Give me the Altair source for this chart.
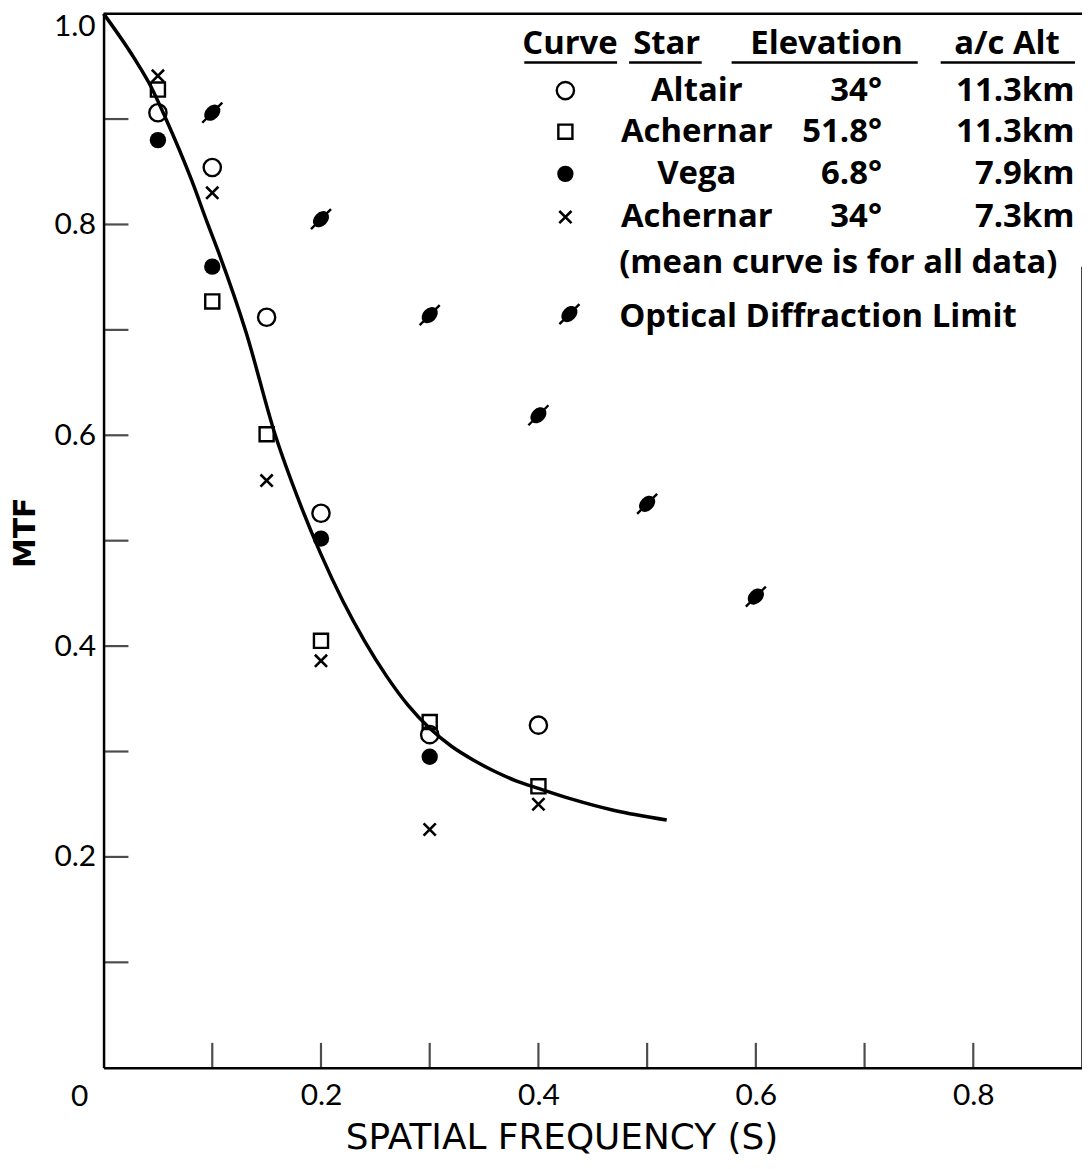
import altair as alt
import pandas as pd

W, H = 983, 1059
BLACK = "#000000"
FONT = "Lato"
LFONT = "Open Sans"

# ---------------- data ----------------
freq = [0.05, 0.10, 0.15, 0.20, 0.30, 0.40]
altair_mtf = [0.906, 0.854, 0.712, 0.526, 0.316, 0.325]
achernar52_mtf = [0.928, 0.727, 0.601, 0.405, 0.328, 0.267]
achernar34_mtf = [0.941, 0.830, 0.557, 0.386, 0.226, 0.250]
vega_freq = [0.05, 0.10, 0.20, 0.30]
vega_mtf = [0.880, 0.760, 0.502, 0.295]
diff_freq = [0.1, 0.2, 0.3, 0.4, 0.5, 0.6]
diff_mtf = [0.906, 0.805, 0.714, 0.619, 0.535, 0.447]

curve_x = [0.0, 0.028, 0.044, 0.057, 0.081, 0.096, 0.106, 0.131, 0.158, 0.18,
           0.20, 0.22, 0.24, 0.26, 0.28, 0.30, 0.32, 0.34, 0.36, 0.38, 0.40,
           0.43, 0.47, 0.518]
curve_y = [1.0, 0.958, 0.930, 0.901, 0.842, 0.800, 0.773, 0.698, 0.600, 0.537,
           0.487, 0.443, 0.405, 0.372, 0.344, 0.322, 0.305, 0.292, 0.281, 0.272,
           0.265, 0.255, 0.244, 0.235]

x_ticks = [0.1, 0.2, 0.3, 0.4, 0.5, 0.6, 0.7, 0.8]
y_ticks = [0.1, 0.2, 0.3, 0.4, 0.5, 0.6, 0.7, 0.8, 0.9]
x_labels = [0.2, 0.4, 0.6, 0.8]
y_labels = [0.2, 0.4, 0.6, 0.8]
top_label = "1.0"
origin_label = "0"

# legend content
hdr_text = ["Curve", "Star", "Elevation", "a/c Alt"]
hdr_x = [0.429, 0.518, 0.665, 0.831]
hdr_y = 0.971
ul_x1 = [0.387, 0.4834, 0.5777, 0.770]
ul_x2 = [0.4724, 0.5502, 0.7489, 0.8936]
ul_y = 0.9537
row_y = [0.927, 0.888, 0.848, 0.807]
star_names = ["Altair", "Achernar", "Vega", "Achernar"]
elevations = ["34°", "51.8°", "6.8°", "34°"]
altitudes = ["11.3km", "11.3km", "7.9km", "7.3km"]
sym_x = 0.4248
name_x = 0.5457
elev_x = 0.716
alt_x = 0.893
note_text = "(mean curve is for all data)"
note_y = 0.763
optical_text = "Optical Diffraction Limit"
optical_y = 0.712
optical_sym_y = 0.715
text_left_x = 0.4743

# ---------------- scales ----------------
xs = alt.Scale(domain=[0, 0.9], nice=False, zero=True)
ys = alt.Scale(domain=[0, 1.0], nice=False, zero=True)

X_PATH = "M-1,-1L1,1M-1,1L1,-1"
DIFF_PATH = ("M-0.9,0.9L0.9,-0.9M0.51,-0.51A0.72,0.5 -45 1,1 -0.51,0.51"
             "A0.72,0.5 -45 1,1 0.51,-0.51Z")


def pts(xv, yv):
    return pd.DataFrame({"x": xv, "y": yv})


def X():
    return alt.X("x:Q", scale=xs)


def Y():
    return alt.Y("y:Q", scale=ys)


base_axes = alt.Chart(pts([0], [0])).mark_point(opacity=0).encode(
    x=alt.X("x:Q", scale=xs, title="SPATIAL FREQUENCY (S)",
            axis=alt.Axis(values=x_labels, format=".1f", ticks=False, grid=False,
                          domainColor=BLACK, domainWidth=2.5,
                          labelFont=FONT, labelFontSize=30, labelColor=BLACK,
                          labelPadding=13, titleFont="DejaVu Sans",
                          titleFontSize=36, titleFontWeight="normal",
                          titleColor=BLACK, titlePadding=10, titleX=460)),
    y=alt.Y("y:Q", scale=ys, title="MTF",
            axis=alt.Axis(values=y_labels, format=".1f", ticks=False, grid=False,
                          domainColor=BLACK, domainWidth=2.5,
                          labelFont=FONT, labelFontSize=30, labelColor=BLACK,
                          labelPadding=8, titleFont="DejaVu Sans",
                          titleFontSize=30, titleFontWeight="bold",
                          titleColor=BLACK, titlePadding=13, titleY=521)),
)

zero_label = alt.Chart(pts([0], [0])).mark_text(
    text=origin_label, font=FONT, fontSize=30, color=BLACK, dx=-24, dy=29
).encode(x=X(), y=Y())

one_label = alt.Chart(pts([0], [1.0])).mark_text(
    text=top_label, font=FONT, fontSize=30, color=BLACK, align="right",
    baseline="middle", dx=-8, dy=13
).encode(x=X(), y=Y())

xtick_marks = alt.Chart(pd.DataFrame({"x": x_ticks})).mark_tick(
    orient="vertical", color=BLACK, size=25, thickness=2.2
).encode(x=X(), y=alt.value(H - 12.5))

ytick_marks = alt.Chart(pd.DataFrame({"y": y_ticks})).mark_tick(
    orient="horizontal", color=BLACK, size=25, thickness=2.2
).encode(y=Y(), x=alt.value(12.5))

top_line = alt.Chart(pd.DataFrame({"y": [1.0]})).mark_rule(
    color=BLACK, strokeWidth=2.5).encode(y=Y())
right_line = alt.Chart(pd.DataFrame({"x": [0.9], "y": [0.0], "y2": [0.76]})).mark_rule(
    color=BLACK, strokeWidth=1.5).encode(x=X(), y=Y(), y2="y2:Q")

curve = alt.Chart(pts(curve_x, curve_y)).mark_line(
    color=BLACK, strokeWidth=3.5, interpolate="monotone"
).encode(x=X(), y=Y())

open_circ = alt.Chart(pts(freq + [sym_x], altair_mtf + [row_y[0]])).mark_point(
    shape="circle", filled=False, color=BLACK, strokeWidth=2.4, size=300, opacity=1
).encode(x=X(), y=Y())

squares = alt.Chart(pts(freq + [sym_x], achernar52_mtf + [row_y[1]])).mark_point(
    shape="square", filled=False, color=BLACK, strokeWidth=2.4, size=200, opacity=1
).encode(x=X(), y=Y())

filled_circ = alt.Chart(pts(vega_freq + [sym_x], vega_mtf + [row_y[2]])).mark_point(
    shape="circle", filled=True, color=BLACK, size=270, opacity=1
).encode(x=X(), y=Y())

crosses = alt.Chart(pts(freq + [sym_x], achernar34_mtf + [row_y[3]])).mark_point(
    shape=X_PATH, filled=False, color=BLACK, strokeWidth=2.6, size=150, opacity=1
).encode(x=X(), y=Y())

diffr = alt.Chart(pts(diff_freq + [0.4285], diff_mtf + [optical_sym_y])).mark_point(
    shape=DIFF_PATH, filled=True, fill=BLACK, stroke=BLACK, strokeWidth=2.4,
    size=500, opacity=1
).encode(x=X(), y=Y())

# legend texts
TXT = dict(font=LFONT, fontSize=33, fontWeight="bold", color=BLACK, baseline="middle")

hdr = alt.Chart(pd.DataFrame({"x": hdr_x, "y": [hdr_y] * 4, "t": hdr_text})).mark_text(
    align="center", **TXT
).encode(x=X(), y=Y(), text="t:N")

underl = alt.Chart(pd.DataFrame({"x": ul_x1, "x2": ul_x2, "y": [ul_y] * 4})).mark_rule(
    color=BLACK, strokeWidth=2.5).encode(x=X(), x2="x2:Q", y=Y())

names = alt.Chart(pd.DataFrame({"x": [name_x] * 4, "y": row_y, "t": star_names})).mark_text(
    align="center", **TXT
).encode(x=X(), y=Y(), text="t:N")

elev = alt.Chart(pd.DataFrame({"x": [elev_x] * 4, "y": row_y, "t": elevations})).mark_text(
    align="right", **TXT
).encode(x=X(), y=Y(), text="t:N")

alts = alt.Chart(pd.DataFrame({"x": [alt_x] * 4, "y": row_y, "t": altitudes})).mark_text(
    align="right", **TXT
).encode(x=X(), y=Y(), text="t:N")

notes = alt.Chart(pd.DataFrame({"x": [text_left_x] * 2, "y": [note_y, optical_y],
                                "t": [note_text, optical_text]})).mark_text(
    align="left", **TXT
).encode(x=X(), y=Y(), text="t:N")

chart = alt.layer(
    base_axes, top_line, right_line, xtick_marks, ytick_marks, zero_label, one_label,
    curve, open_circ, squares, filled_circ, crosses, diffr,
    hdr, underl, names, elev, alts, notes
).properties(
    width=W, height=H,
    padding={"left": 96, "top": 3, "right": 0, "bottom": 86},
    autosize=alt.AutoSizeParams(type="none"),
    background="white",
).configure_view(stroke=None)

chart.save("out.html", embed_options={"renderer": "svg", "actions": False})
